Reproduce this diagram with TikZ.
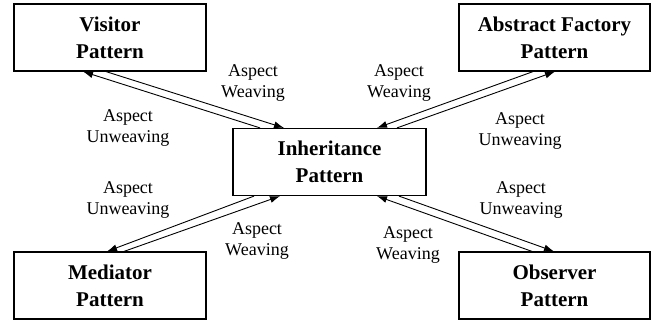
\documentclass[tikz,border=0pt]{standalone}
\usepackage{fontspec}
\setmainfont{Liberation Serif}
\usetikzlibrary{arrows.meta}
\begin{document}
\begin{tikzpicture}[x=1pt,y=-1pt,
  patternbox/.style={draw, line width=1.2pt, align=center, inner sep=0pt,
    minimum height=67pt,
    font=\fontsize{21}{27}\selectfont\bfseries},
  linklabel/.style={align=center, inner sep=0pt,
    font=\fontsize{18}{21.5}\selectfont},
  link/.style={line width=0.9pt, -{Latex[length=10pt,width=7pt]}}]
\useasboundingbox (0,0) rectangle (652,320);

% pattern boxes
\node[patternbox, minimum width=192pt] (vis) at (110,37.5) {Visitor\\Pattern};
\node[patternbox, minimum width=191pt] (abs) at (554.5,37.5) {Abstract Factory\\Pattern};
\node[patternbox, minimum width=193pt] (inh) at (329.5,162) {Inheritance\\Pattern};
\node[patternbox, minimum width=192pt] (med) at (110,285.5) {Mediator\\Pattern};
\node[patternbox, minimum width=191pt] (obs) at (554.5,285.5) {Observer\\Pattern};

% weaving / unweaving connectors
\draw[link] ([xshift=-4pt]vis.south) -- ([xshift=-45.5pt]inh.north);
\draw[link] ([xshift=-69.5pt]inh.north) -- ([xshift=-27pt]vis.south);

\draw[link] ([xshift=-21.5pt]abs.south) -- ([xshift=47.5pt]inh.north);
\draw[link] ([xshift=67.5pt]inh.north) -- ([xshift=0.5pt]abs.south);

\draw[link] ([xshift=-75.5pt]inh.south) -- ([xshift=-3pt]med.north);
\draw[link] ([xshift=14pt]med.north) -- ([xshift=-49.5pt]inh.south);

\draw[link] ([xshift=-22.5pt]obs.north) -- ([xshift=47.5pt]inh.south);
\draw[link] ([xshift=69.5pt]inh.south) -- ([xshift=-0.5pt]obs.north);

% connector labels
\node[linklabel] (l1) at (253,83) {Aspect\\Weaving};
\node[linklabel] (l2) at (128,128) {Aspect\\Unweaving};
\node[linklabel] (l3) at (399,83) {Aspect\\Weaving};
\node[linklabel] (l4) at (520,131) {Aspect\\Unweaving};
\node[linklabel] (l5) at (128,200) {Aspect\\Unweaving};
\node[linklabel] (l6) at (257,241) {Aspect\\Weaving};
\node[linklabel] (l7) at (521,200) {Aspect\\Unweaving};
\node[linklabel] (l8) at (408,245) {Aspect\\Weaving};
\end{tikzpicture}
\end{document}
